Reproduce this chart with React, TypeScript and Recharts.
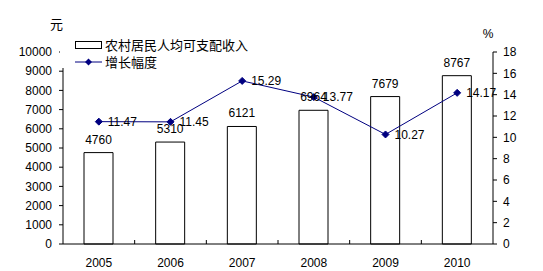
import React from "react";
import {
  ComposedChart,
  Bar,
  Line,
  XAxis,
  YAxis,
  LabelList,
  Label,
} from "recharts";

const years = ["2005", "2006", "2007", "2008", "2009", "2010"];
const income = [4760, 5310, 6121, 6964, 7679, 8767];
const growth = [11.47, 11.45, 15.29, 13.77, 10.27, 14.17];
const leftTicks = [0, 1000, 2000, 3000, 4000, 5000, 6000, 7000, 8000, 9000, 10000];
const rightTicks = [0, 2, 4, 6, 8, 10, 12, 14, 16, 18];

const data = years.map((year, i) => ({
  year,
  income: income[i],
  growth: growth[i],
}));

const FONT = '"Liberation Sans", Arial, "Noto Sans CJK SC", sans-serif';
const NAVY = "#000080";

const Diamond = (props: any) => {
  const { cx, cy } = props;
  if (cx == null || cy == null) return null;
  const r = 3.5;
  return (
    <polygon
      points={`${cx},${cy - r} ${cx + r},${cy} ${cx},${cy + r} ${cx - r},${cy}`}
      fill={NAVY}
      stroke={NAVY}
    />
  );
};

// category label in the middle, small inward tick on the left boundary of each band
const YearTick = (props: any) => {
  const { x, y, payload, index } = props;
  const half = payload.offset || 0;
  return (
    <g>
      {index > 0 && (
        <line x1={x - half} y1={y} x2={x - half} y2={y - 4} stroke="#000" />
      )}
      <text x={x} y={y + 23} textAnchor="middle" fontSize={12} fill="#000" fontFamily={FONT}>
        {payload.value}
      </text>
    </g>
  );
};

export default function App() {
  return (
    <div style={{ position: "absolute", left: 0, top: 0, width: 543, height: 271, fontFamily: FONT }}>
      <ComposedChart
        width={543}
        height={271}
        data={data}
        margin={{ top: 52, right: 0, bottom: 0, left: 0 }}
      >
        <XAxis
          dataKey="year"
          height={27}
          axisLine={{ stroke: "#000" }}
          tickLine={false}
          tickSize={0}
          tickMargin={0}
          tick={<YearTick />}
          interval={0}
        />
        <YAxis
          yAxisId="left"
          width={63}
          domain={[0, 10000]}
          ticks={leftTicks}
          interval={0}
          axisLine={{ stroke: "#000" }}
          tickLine={{ stroke: "#000" }}
          tickSize={4}
          tickMargin={7}
          tick={{ fontSize: 12, fill: "#000", fontFamily: FONT }}
        >
          <Label value="元" position="top" dx={25} dy={-18} fontSize={13} fill="#000" />
        </YAxis>
        <YAxis
          yAxisId="right"
          orientation="right"
          width={50}
          domain={[0, 18]}
          ticks={rightTicks}
          interval={0}
          axisLine={{ stroke: "#000" }}
          tickLine={{ stroke: "#000" }}
          tickSize={4}
          tickMargin={6}
          tick={{ fontSize: 12, fill: "#000", fontFamily: FONT }}
        >
          <Label value="%" position="top" dx={-30} dy={-9} fontSize={12} fill="#000" />
        </YAxis>
        <Bar
          yAxisId="left"
          dataKey="income"
          barSize={29}
          fill="#fff"
          stroke="#000"
          strokeWidth={1}
          isAnimationActive={false}
        >
          <LabelList dataKey="income" position="top" offset={9} fontSize={12} fill="#000" fontFamily={FONT} />
        </Bar>
        <Line
          yAxisId="right"
          dataKey="growth"
          stroke={NAVY}
          strokeWidth={1}
          dot={<Diamond />}
          activeDot={false}
          isAnimationActive={false}
        >
          <LabelList dataKey="growth" position="right" offset={9} fontSize={12} fill="#000" fontFamily={FONT} />
        </Line>
      </ComposedChart>
      <div
        style={{
          position: "absolute",
          left: 60,
          top: 36,
          width: 200,
          height: 32,
          background: "#fff",
          fontSize: 13,
          color: "#000",
          fontFamily: FONT,
        }}
      >
        <div style={{ position: "absolute", left: 15, top: 0, height: 17, display: "flex", alignItems: "center" }}>
          <svg width={28} height={17}>
            <rect x={0.5} y={5.5} width={26} height={7} fill="#fff" stroke="#000" />
          </svg>
          <span style={{ marginLeft: 2, whiteSpace: "nowrap" }}>农村居民人均可支配收入</span>
        </div>
        <div style={{ position: "absolute", left: 15, top: 17, height: 17, display: "flex", alignItems: "center" }}>
          <svg width={28} height={17}>
            <line x1={0} y1={9} x2={27} y2={9} stroke={NAVY} />
            <polygon points="13.5,5.5 17,9 13.5,12.5 10,9" fill={NAVY} />
          </svg>
          <span style={{ marginLeft: 2, whiteSpace: "nowrap" }}>增长幅度</span>
        </div>
      </div>
    </div>
  );
}
